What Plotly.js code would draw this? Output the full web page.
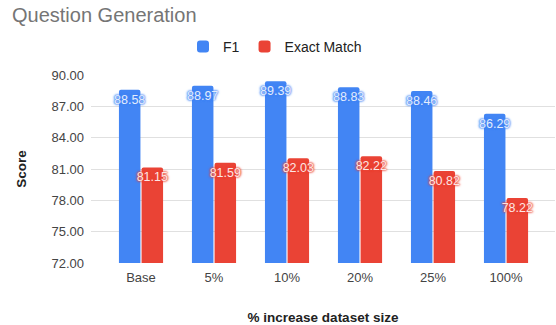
<!DOCTYPE html>
<html><head><meta charset="utf-8">
<script src="https://cdn.plot.ly/plotly-3.0.1.min.js"></script>
<style>html,body{margin:0;padding:0;background:#fff}#c{width:556px;height:325px}</style>
</head><body><div id="c"></div>
<script>
const categories = ["Base", "5%", "10%", "20%", "25%", "100%"];
const f1 = [88.58, 88.97, 89.39, 88.83, 88.46, 86.29];
const exactMatch = [81.15, 81.59, 82.03, 82.22, 80.82, 78.22];
const yTicks = [72, 75, 78, 81, 84, 87, 90];

const FONT = "Arial, 'Liberation Sans', sans-serif";
function barTrace(name, vals, color, labelColor) {
  const halo = `0 0 2px ${color}, 0 0 2px ${color}, 0 0 3px ${color}`;
  return {
    type: "bar", name: name, x: categories, y: vals,
    marker: {color: color, cornerradius: 2},
    text: vals.map(v => v.toFixed(2)),
    textposition: "inside", insidetextanchor: "end", constraintext: "none",
    textangle: 0,
    insidetextfont: {family: FONT, size: 12.5, color: labelColor, shadow: halo},
    hoverinfo: "none", cliponaxis: false
  };
}
const data = [
  barTrace("F1", f1, "#4285F4", "#e3ecfd"),
  barTrace("Exact Match", exactMatch, "#EA4335", "#fde6e4")
];
const layout = {
  width: 556, height: 325,
  margin: {l: 91, r: 1, t: 75, b: 62},
  paper_bgcolor: "#fff", plot_bgcolor: "#fff",
  font: {family: FONT, size: 13, color: "#444"},
  title: {text: "Question Generation", x: 12/556, xanchor: "left", xref: "container",
          y: 1 - 15/325, yanchor: "middle", yref: "container",
          font: {family: FONT, size: 20, color: "#757575"}},
  showlegend: true,
  legend: {orientation: "h", xref: "container", yref: "container", x: 275/556, xanchor: "center",
           y: 1 - 47/325, yanchor: "middle", font: {family: FONT, size: 14, color: "#222"},
           itemwidth: 30, traceorder: "normal"},
  barmode: "group", bargap: 0.38, bargroupgap: 0.05,
  xaxis: {type: "category", range: [-0.685, 5.671], showgrid: false, zeroline: false,
          showline: false, ticks: "", ticklabelstandoff: 5,
          tickfont: {family: FONT, size: 13, color: "#444"},
          title: {text: "% increase dataset size", standoff: 32,
                  font: {family: FONT, size: 13.5, color: "#222", weight: "bold"}}},
  yaxis: {range: [72, 90], tickvals: yTicks, ticktext: yTicks.map(v => v.toFixed(2)),
          showgrid: true, gridcolor: "#e0e0e0", gridwidth: 1, zeroline: false, showline: false,
          ticks: "", ticklabelstandoff: 6,
          tickfont: {family: FONT, size: 13, color: "#444"},
          title: {text: "Score", standoff: 21,
                  font: {family: FONT, size: 13.5, color: "#222", weight: "bold"}}}
};
Plotly.newPlot("c", data, layout, {displayModeBar: false, staticPlot: true});
</script></body></html>
